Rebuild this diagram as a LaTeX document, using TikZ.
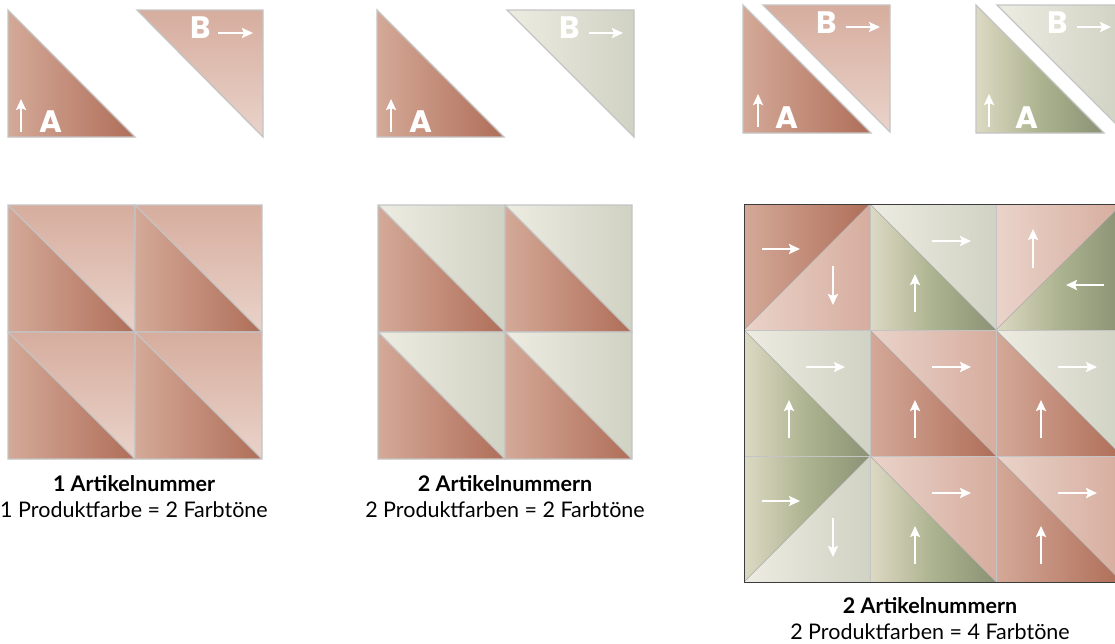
\documentclass[tikz,border=0pt]{standalone}
\usepackage{fontspec}
\setmainfont{Lato}
\newfontfamily\letterfont{Poppins}
\usetikzlibrary{arrows.meta}

\definecolor{rustlight}{RGB}{212,169,152}
\definecolor{rustdark}{RGB}{175,110,88}
\definecolor{pinkdark}{RGB}{214,173,158}
\definecolor{pinklight}{RGB}{234,211,202}
\definecolor{olivelight}{RGB}{221,217,196}
\definecolor{olivemid}{RGB}{172,179,143}
\definecolor{olivedark}{RGB}{139,146,117}
\definecolor{sagelight}{RGB}{237,236,226}
\definecolor{sagedark}{RGB}{208,210,195}
\definecolor{tilegrey}{RGB}{196,196,196}
\definecolor{framegrey}{RGB}{60,60,60}

\tikzset{
  rustA/.style={left color=rustlight, right color=rustdark},
  pinkB/.style={top color=pinkdark, bottom color=pinklight},
  pinkBh/.style={left color=pinklight, right color=pinkdark},
  oliveA/.style={left color=olivelight, right color=olivedark, middle color=olivemid},
  sageB/.style={left color=sagelight, right color=sagedark},
  tileline/.style={draw=tilegrey, line width=1.3pt},
  seam/.style={draw=tilegrey!85!black, line width=0.5pt},
  arr/.style={white, line width=2.2pt, -{Stealth[length=11pt,width=10pt,inset=2pt]}},
  letter/.style={white, font=\letterfont\bfseries\fontsize{31}{31}\selectfont, inner sep=0pt, anchor=base},
  captionbold/.style={font=\bfseries\fontsize{21.5}{24}\selectfont, inner sep=0pt, anchor=base},
  captionplain/.style={font=\fontsize{21.5}{24}\selectfont, inner sep=0pt, anchor=base},
}

% A bottom left, B top right
\newcommand{\tileN}[4]{%
  \begin{scope}[shift={(#1,#2)}]
    \shade[#3] (0,0) -- (0,126) -- (126,126) -- cycle;
    \shade[#4] (0,0) -- (126,0) -- (126,126) -- cycle;
    \draw[seam] (0,0) -- (126,126);
    \draw[arr] (45,108) -- (45,70);
    \draw[arr] (62,37) -- (101,37);
  \end{scope}}
% turned right: A top left, B bottom right
\newcommand{\tileCW}[4]{%
  \begin{scope}[shift={(#1,#2)}]
    \shade[#3] (0,0) -- (126,0) -- (0,126) -- cycle;
    \shade[#4] (126,0) -- (126,126) -- (0,126) -- cycle;
    \draw[seam] (0,126) -- (126,0);
    \draw[arr] (18,45) -- (56,45);
    \draw[arr] (89,62) -- (89,101);
  \end{scope}}
% turned left: A bottom right, B top left
\newcommand{\tileCCW}[4]{%
  \begin{scope}[shift={(#1,#2)}]
    \shade[#3] (126,0) -- (126,126) -- (0,126) -- cycle;
    \shade[#4] (0,0) -- (126,0) -- (0,126) -- cycle;
    \draw[seam] (0,126) -- (126,0);
    \draw[arr] (108,81) -- (70,81);
    \draw[arr] (37,64) -- (37,25);
  \end{scope}}

\begin{document}
\begin{tikzpicture}[x=1pt, y=-1pt]
    \useasboundingbox (0,0) rectangle (1115,643);
    \clip (0,0) rectangle (1115,643);

    % pair 1: one colour
    \shadedraw[rustA, tileline] (8,10) -- (8,137) -- (135,137) -- cycle;
    \shadedraw[pinkB, tileline] (137,10) -- (263,10) -- (263,137) -- cycle;
    \node[letter] (a1) at (51,132) {A};
    \draw[arr] (21,132) -- (21,99);
    \node[letter] (b1) at (201,38) {B};
    \draw[arr] (218,33) -- (253,33);

    % pair 2: two colours
    \shadedraw[rustA, tileline] (377,10) -- (377,137) -- (504,137) -- cycle;
    \shadedraw[sageB, tileline] (507,10) -- (634,10) -- (634,137) -- cycle;
    \node[letter] (a2) at (421,132) {A};
    \draw[arr] (391,132) -- (391,99);
    \node[letter] (b2) at (570,38) {B};
    \draw[arr] (589,33) -- (623,33);

    % pair 3: pink, split
    \shadedraw[rustA, tileline] (743,5) -- (743,133) -- (871,133) -- cycle;
    \shadedraw[pinkB, tileline] (763,5) -- (890,5) -- (890,132) -- cycle;
    \node[letter] (a3) at (787,128) {A};
    \draw[arr] (758,127) -- (758,94);
    \node[letter] (b3) at (827,33) {B};
    \draw[arr] (846,27) -- (880,27);

    % pair 4: green, split
    \shadedraw[oliveA, tileline] (976,5) -- (976,133) -- (1104,133) -- cycle;
    \shadedraw[sageB, tileline] (997,5) -- (1124,5) -- (1124,132) -- cycle;
    \node[letter] (a4) at (1027,128) {A};
    \draw[arr] (989,127) -- (989,94);
    \node[letter] (b4) at (1058,33) {B};
    \draw[arr] (1077,27) -- (1111,27);

    % grid 1
    \foreach \x/\y in {8/205, 135/205, 8/332, 135/332}{
        \shade[rustA] (\x,\y) -- (\x,\y+127) -- (\x+127,\y+127) -- cycle;
        \shade[pinkB] (\x,\y) -- (\x+127,\y) -- (\x+127,\y+127) -- cycle;
        \draw[tileline] (\x,\y) rectangle (\x+127,\y+127) (\x,\y) -- (\x+127,\y+127);
    }
    \node[captionbold] (cap1a) at (134,491) {1 Artikelnummer};
    \node[captionplain] (cap1b) at (134,517) {1 Produktfarbe = 2 Farbtöne};

    % grid 2
    \foreach \x/\y in {378/205, 505/205, 378/332, 505/332}{
        \shade[rustA] (\x,\y) -- (\x,\y+127) -- (\x+127,\y+127) -- cycle;
        \shade[sageB] (\x,\y) -- (\x+127,\y) -- (\x+127,\y+127) -- cycle;
        \draw[tileline] (\x,\y) rectangle (\x+127,\y+127) (\x,\y) -- (\x+127,\y+127);
    }
    \node[captionbold] (cap2a) at (505,491) {2 Artikelnummern};
    \node[captionplain] (cap2b) at (505,517) {2 Produktfarben = 2 Farbtöne};

    % grid 3: mixed
    \tileCW{744}{204}{rustA}{pinkBh}
    \tileN{870}{204}{oliveA}{sageB}
    \tileCCW{996}{204}{oliveA}{pinkBh}
    \tileN{744}{330}{oliveA}{sageB}
    \tileN{870}{330}{rustA}{pinkBh}
    \tileN{996}{330}{rustA}{sageB}
    \tileCW{744}{456}{oliveA}{sageB}
    \tileN{870}{456}{oliveA}{pinkBh}
    \tileN{996}{456}{rustA}{pinkBh}
    \foreach \i in {1,2}{
        \draw[tilegrey, line width=1pt] (744+126*\i,204) -- (744+126*\i,582);
        \draw[tilegrey, line width=1pt] (744,204+126*\i) -- (1122,204+126*\i);
    }
    \draw[framegrey, line width=1pt] (744,204) rectangle (1122,582);
    \node[captionbold] (cap3a) at (930,613) {2 Artikelnummern};
    \node[captionplain] (cap3b) at (930,639) {2 Produktfarben = 4 Farbtöne};
\end{tikzpicture}
\end{document}
